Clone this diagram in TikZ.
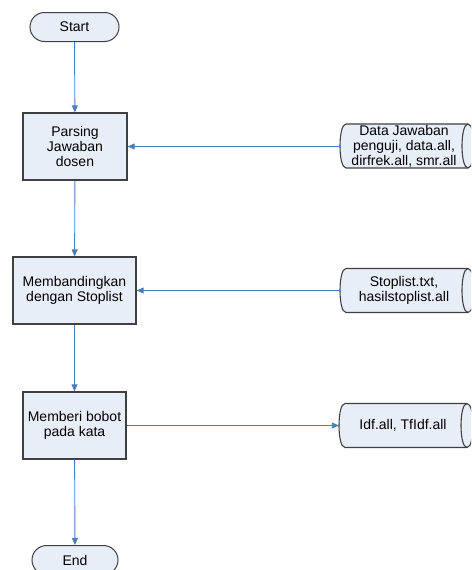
\documentclass[tikz,border=0pt]{standalone}
\usepackage{fontspec}
\setmainfont{Liberation Sans}
\usetikzlibrary{arrows.meta}
\definecolor{shapefill}{HTML}{E8EEF7}
\definecolor{shapeline}{HTML}{404040}
\definecolor{flowblue}{HTML}{4A7EBB}
\begin{document}
\begin{tikzpicture}[x=1pt,y=-1pt,
  every node/.style={font=\fontsize{14}{15}\selectfont, align=center, inner sep=0pt},
  process/.style={draw=shapeline, fill=shapefill, line width=1.2pt, minimum height=67pt},
  terminal/.style={draw=shapeline, fill=shapefill, line width=1pt, rounded corners=14.5pt,
    minimum width=89pt, minimum height=29pt},
  storetext/.style={minimum width=128pt, minimum height=44pt},
  storeline/.style={draw=shapeline, line width=1.1pt},
  flow/.style={draw=flowblue, line width=0.9pt, -{Triangle[length=7pt,width=6pt]}}
]
\clip (0,0) rectangle (471,570);
\fill[white] (0,0) rectangle (471,570);

% main column
\node[terminal] (start) at (74.5,27) {Start};
\node[process, minimum width=104pt] (parse) at (75,146.5) {Parsing\\Jawaban\\dosen};
\node[process, minimum width=123pt] (compare) at (74.5,290.5) {Membandingkan\\dengan Stoplist};
\node[process, minimum width=103pt] (weight) at (74.5,425.5) {Memberi bobot\\pada kata};
\node[terminal, minimum width=86pt] (end) at (75,560) {End};

% stored data shapes
\filldraw[storeline, fill=shapefill] (346,124) -- (468,124) .. controls (476,124) and (476,168) .. (468,168)
  -- (346,168) .. controls (338,168) and (338,124) .. (346,124) -- cycle;
\draw[storeline] (468,124) .. controls (460,124) and (460,168) .. (468,168);
\node[storetext] (ds1) at (404,146.5) {Data Jawaban\\penguji, data.all,\\dirfrek.all, smr.all};

\filldraw[storeline, fill=shapefill] (346,268.5) -- (468,268.5) .. controls (476,268.5) and (476,312.5) .. (468,312.5)
  -- (346,312.5) .. controls (338,312.5) and (338,268.5) .. (346,268.5) -- cycle;
\draw[storeline] (468,268.5) .. controls (460,268.5) and (460,312.5) .. (468,312.5);
\node[storetext] (ds2) at (404,290.5) {Stoplist.txt,\\hasilstoplist.all};

\filldraw[storeline, fill=shapefill] (345,403.5) -- (467,403.5) .. controls (475,403.5) and (475,447.5) .. (467,447.5)
  -- (345,447.5) .. controls (337,447.5) and (337,403.5) .. (345,403.5) -- cycle;
\draw[storeline] (467,403.5) .. controls (459,403.5) and (459,447.5) .. (467,447.5);
\node[storetext] (ds3) at (403,425.5) {Idf.all, TfIdf.all};

% connectors
\draw[flow] (start) -- (parse);
\draw[flow] (parse) -- (compare);
\draw[flow] (compare) -- (weight);
\draw[flow] (weight) -- (end);
\draw[flow] (ds1.west) -- (parse.east);
\draw[flow] (ds2.west) -- (compare.east);
\draw[flow] (weight.east) -- (ds3.west);
\end{tikzpicture}
\end{document}
